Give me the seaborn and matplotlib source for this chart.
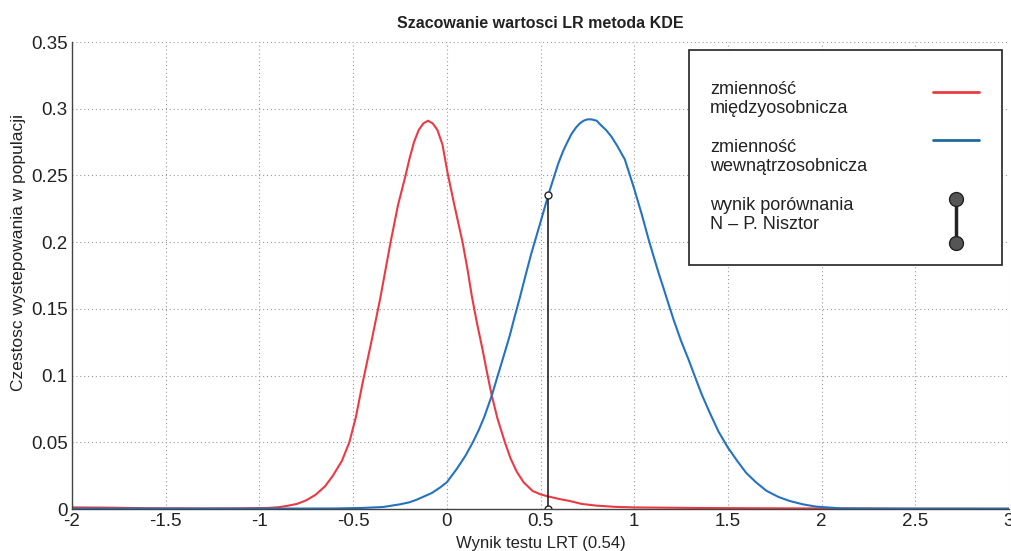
import matplotlib
matplotlib.use("Agg")
import matplotlib.pyplot as plt
import seaborn as sns
from matplotlib.patches import Rectangle
from matplotlib.lines import Line2D

# ---- data ----
red_x = [-2.0, -1.8, -1.6, -1.3, -1.1, -0.95, -0.90, -0.85, -0.80, -0.75, -0.70,
         -0.65, -0.61, -0.56, -0.52, -0.485, -0.45, -0.40, -0.355, -0.30, -0.26,
         -0.22, -0.20, -0.175, -0.15, -0.125, -0.10, -0.075, -0.05, -0.023, 0.004,
         0.04, 0.084, 0.11, 0.133, 0.16, 0.19, 0.215, 0.24, 0.27, 0.31, 0.34,
         0.373, 0.41, 0.458, 0.50, 0.533, 0.60, 0.656, 0.72, 0.80, 0.90, 1.0,
         1.3, 1.6, 2.0, 2.5, 3.0]
red_y = [0.0012, 0.001, 0.0006, 0.0004, 0.0005, 0.0008, 0.0013, 0.0024, 0.0038, 0.0065, 0.0107,
         0.017, 0.0245, 0.036, 0.050, 0.069, 0.094, 0.127, 0.158, 0.200, 0.228,
         0.250, 0.262, 0.275, 0.284, 0.289, 0.291, 0.289, 0.284, 0.273, 0.252,
         0.228, 0.200, 0.180, 0.160, 0.140, 0.120, 0.102, 0.085, 0.068, 0.050, 0.038,
         0.028, 0.020, 0.0135, 0.011, 0.0097, 0.0075, 0.006, 0.0038, 0.0025, 0.0016, 0.0012,
         0.0008, 0.0006, 0.0004, 0.0002, 0.0001]

blue_x = [-2.0, -1.0, -0.6, -0.45, -0.34, -0.25, -0.20, -0.16, -0.12, -0.08, -0.037,
          0.0, 0.053, 0.10, 0.139, 0.17, 0.20, 0.24, 0.272, 0.30, 0.336, 0.36,
          0.389, 0.42, 0.45, 0.50, 0.543, 0.57, 0.595, 0.62, 0.64, 0.665, 0.69,
          0.71, 0.73, 0.75, 0.772, 0.80, 0.82, 0.85, 0.879, 0.91, 0.95, 0.975,
          1.0, 1.04, 1.075, 1.10, 1.13, 1.16, 1.18, 1.21, 1.25, 1.29, 1.322,
          1.36, 1.402, 1.45, 1.5, 1.55, 1.598, 1.65, 1.705, 1.77, 1.83, 1.90,
          1.97, 2.1, 2.4, 3.0]
blue_y = [0.0003, 0.0003, 0.0004, 0.0008, 0.0015, 0.0035, 0.005, 0.007, 0.0095, 0.012, 0.016,
          0.020, 0.030, 0.040, 0.050, 0.059, 0.069, 0.085, 0.100, 0.113, 0.130, 0.143,
          0.158, 0.175, 0.191, 0.215, 0.236, 0.248, 0.259, 0.268, 0.274, 0.281, 0.286,
          0.289, 0.291, 0.292, 0.292, 0.291, 0.288, 0.284, 0.279, 0.272, 0.262, 0.251,
          0.240, 0.221, 0.203, 0.191, 0.177, 0.164, 0.155, 0.142, 0.126, 0.112, 0.100,
          0.086, 0.0725, 0.058, 0.046, 0.036, 0.027, 0.020, 0.0137, 0.009, 0.006, 0.0035,
          0.0018, 0.0005, 0.0003, 0.0003]

lrt_x = [0.54, 0.54]
lrt_y = [0.0, 0.235]

x_ticks = [-2, -1.5, -1, -0.5, 0, 0.5, 1, 1.5, 2, 2.5, 3]
x_ticklabels = ["-2", "-1.5", "-1", "-0.5", "0", "0.5", "1", "1.5", "2", "2.5", "3"]
y_ticks = [0, 0.05, 0.1, 0.15, 0.2, 0.25, 0.3, 0.35]
y_ticklabels = ["0", "0.05", "0.1", "0.15", "0.2", "0.25", "0.3", "0.35"]

title = "Szacowanie wartosci LR metoda KDE"
xlabel = "Wynik testu LRT (0.54)"
ylabel = "Czestosc wystepowania w populacji"
legend_labels = ["zmienność\nmiędzyosobnicza", "zmienność\nwewnątrzosobnicza",
                 "wynik porównania\nN – P. Nisztor"]

RED = "#ec3a44"
BLUE = "#2573c0"

sns.set_theme(style="white")
plt.rcParams["font.family"] = ["Liberation Sans", "DejaVu Sans"]
plt.rcParams["axes.unicode_minus"] = False

fig = plt.figure(figsize=(10.12, 5.51), dpi=100)
ax = fig.add_axes([72 / 1012, 1 - 509 / 551, (1009 - 72) / 1012, (509 - 42) / 551])

sns.lineplot(x=red_x, y=red_y, color=RED, lw=1.5, ax=ax, sort=False, estimator=None)
sns.lineplot(x=blue_x, y=blue_y, color=BLUE, lw=1.5, ax=ax, sort=False, estimator=None)
sns.lineplot(x=lrt_x, y=lrt_y, color="#222222", lw=1.2, ax=ax, sort=False, estimator=None,
             marker="o", markersize=5, markerfacecolor="white", markeredgecolor="#222222",
             markeredgewidth=1.0)

ax.set_xlim(-2, 3)
ax.set_ylim(0, 0.35)
ax.set_xticks(x_ticks)
ax.set_xticklabels(x_ticklabels)
ax.set_yticks(y_ticks)
ax.set_yticklabels(y_ticklabels)
ax.tick_params(direction="in", length=6, width=1, color="#444444", labelsize=13.5,
               labelcolor="#222222", pad=3)
ax.grid(True, linestyle=(0, (1, 2.5)), color="#9a9a9a", linewidth=0.8)
for s in ["top", "right"]:
    ax.spines[s].set_visible(False)
for s in ["left", "bottom"]:
    ax.spines[s].set_color("#444444")
    ax.spines[s].set_linewidth(1.0)

ax.set_title(title, fontsize=11.5, fontweight="bold", pad=10, color="#222222")
ax.set_xlabel(xlabel, fontsize=12, labelpad=4, color="#222222")
ax.set_ylabel(ylabel, fontsize=12.5, color="#222222")
ax.yaxis.set_label_coords(-0.049, 0.55)

# ---- legend box (text left, keys right) ----
T = ax.transAxes
ax.add_patch(Rectangle((0.659, 0.5225), 0.9925 - 0.659, 0.983 - 0.5225, transform=T,
                       facecolor="white", edgecolor="#222222", lw=1.2, zorder=5))
text_y = [0.878, 0.753, 0.630]
for lab, ty in zip(legend_labels, text_y):
    ax.text(0.681, ty, lab, transform=T, fontsize=13, va="center", ha="left",
            linespacing=1.15, color="#222222", zorder=6)
ax.add_line(Line2D([0.919, 0.968], [0.893, 0.893], transform=T, color=RED, lw=2, zorder=6))
ax.add_line(Line2D([0.919, 0.968], [0.790, 0.790], transform=T, color="#1f6a98", lw=2, zorder=6))
ax.add_line(Line2D([0.9435, 0.9435], [0.664, 0.570], transform=T, color="#222222", lw=2.5,
                   marker="o", markersize=10, markerfacecolor="#555555",
                   markeredgecolor="#222222", zorder=6))

fig.savefig("out.png", dpi=100)
